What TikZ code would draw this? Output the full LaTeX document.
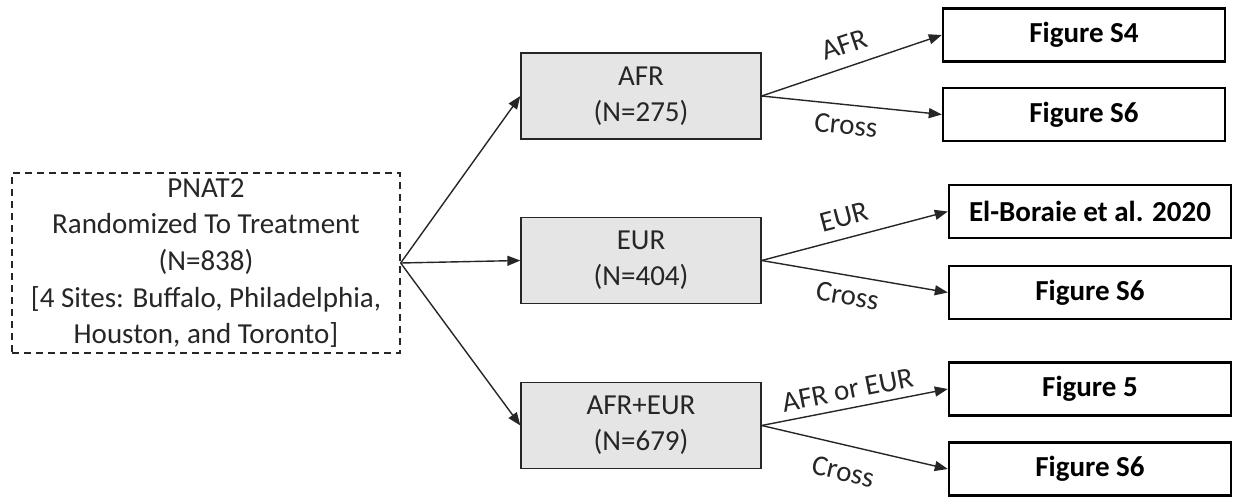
\documentclass[tikz,border=0pt]{standalone}
\usepackage{fontspec}
\setmainfont{Carlito}
\usetikzlibrary{arrows.meta}
\definecolor{boxgray}{HTML}{E5E5E5}
\definecolor{ink}{HTML}{262626}
\tikzset{
  every node/.style={font=\fontsize{29}{36.7}\selectfont, text=ink},
  startbox/.style={draw=ink, dashed, dash pattern=on 7pt off 5pt, line width=1.3pt, minimum width=388pt, minimum height=180pt, align=center, inner sep=0pt},
  popbox/.style={draw=ink, fill=boxgray, line width=1.3pt, minimum width=240pt, minimum height=86pt, align=center, inner sep=0pt, font=\fontsize{29}{36}\selectfont},
  figbox/.style={draw=black, line width=2.4pt, minimum width=282pt, minimum height=53pt, inner sep=0pt, font=\fontsize{29}{35}\selectfont\bfseries, text=black},
  conn/.style={draw=ink, line width=1.4pt, -{Triangle[length=13pt,width=10pt]}},
  elab/.style={sloped, font=\fontsize{29}{35}\selectfont, inner sep=9pt}
}
\begin{document}
\begin{tikzpicture}[x=1pt,y=-1pt]
\useasboundingbox (0,0) rectangle (1233,497);
\node[startbox] (start) at (206,263) {PNAT2\\Randomized To Treatment\\(N=838)\\{}[4 Sites: Buffalo, Philadelphia,\\Houston, and Toronto]};
\node[popbox] (afr) at (641,96) {AFR\\(N=275)};
\node[popbox] (eur) at (641,260.5) {EUR\\(N=404)};
\node[popbox] (both) at (641,425.5) {AFR+EUR\\(N=679)};
\node[figbox] (f1) at (1084,35) {Figure S4};
\node[figbox] (f2) at (1084,114.5) {Figure S6};
\node[figbox] (f3) at (1090,211.5) {El-Boraie et al. 2020};
\node[figbox] (f4) at (1090,292.5) {Figure S6};
\node[figbox] (f5) at (1090,389) {Figure 5};
\node[figbox] (f6) at (1090,469) {Figure S6};
\draw[conn] (start.east) -- (afr.west);
\draw[conn] (start.east) -- (eur.west);
\draw[conn] (start.east) -- (both.west);
\draw[conn] (afr.east) -- node[elab, above, pos=0.5, inner sep=12pt] {AFR} (f1.west);
\draw[conn] (afr.east) -- node[elab, below, pos=0.48, inner sep=10pt] {Cross} (f2.west);
\draw[conn] (eur.east) -- node[elab, above, pos=0.47, inner sep=11pt] {EUR} (f3.west);
\draw[conn] (eur.east) -- node[elab, below, pos=0.48, inner sep=10pt] {Cross} (f4.west);
\draw[conn] (both.east) -- node[elab, above, pos=0.48, inner sep=8pt] {AFR or EUR} (f5.west);
\draw[conn] (both.east) -- node[elab, below, pos=0.47, inner sep=16pt] {Cross} (f6.west);
\end{tikzpicture}
\end{document}
